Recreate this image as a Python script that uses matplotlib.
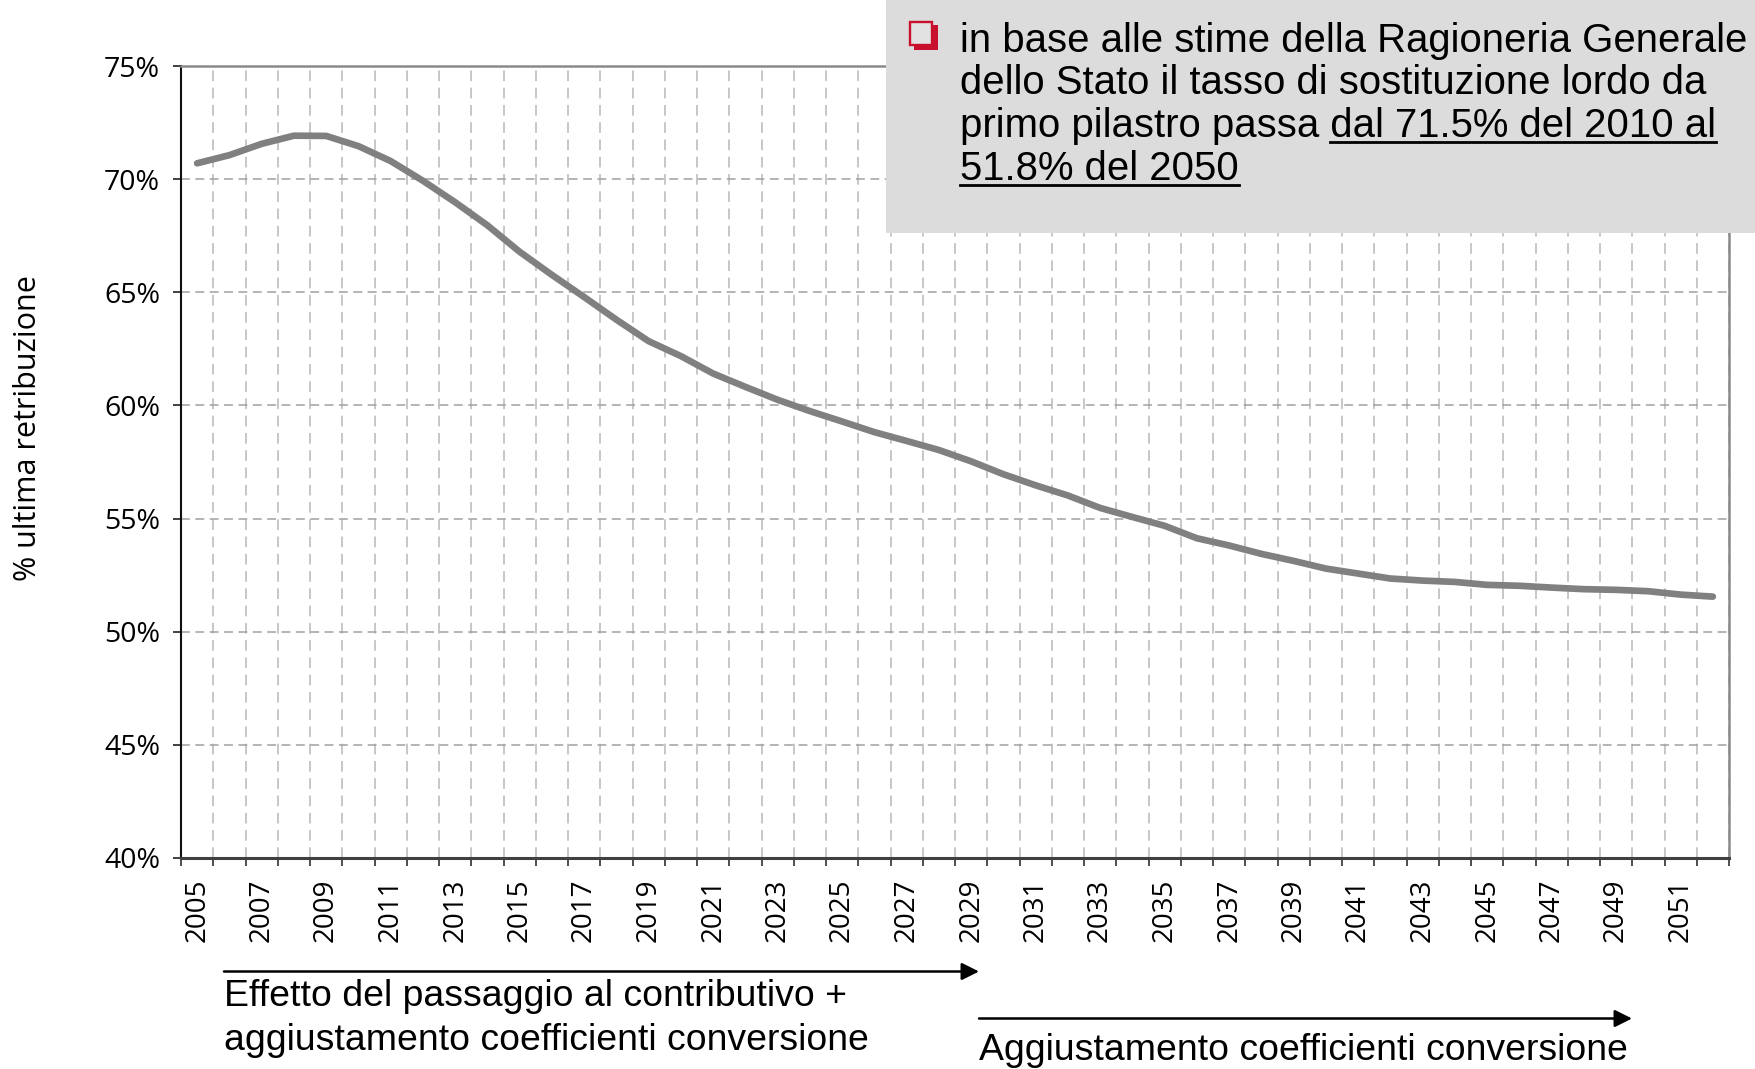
import numpy as np
import matplotlib
matplotlib.use('Agg')
import matplotlib.pyplot as plt

# replacement rate (% of last salary), first pillar, RGS projection
years = list(range(2005, 2053))
values = [70.70, 71.06, 71.56, 71.92, 71.91, 71.46, 70.80, 69.93, 68.98, 67.96,
          66.79, 65.77, 64.79, 63.79, 62.84, 62.18, 61.41, 60.82, 60.25, 59.75,
          59.29, 58.82, 58.43, 58.03, 57.53, 56.96, 56.47, 56.02, 55.47, 55.07,
          54.68, 54.13, 53.81, 53.44, 53.13, 52.79, 52.57, 52.35, 52.26, 52.20,
          52.07, 52.03, 51.95, 51.88, 51.85, 51.79, 51.64, 51.55]
y_ticks = [40, 45, 50, 55, 60, 65, 70, 75]

ylabel = '% ultima retribuzione'
box_lines = ['in base alle stime della Ragioneria Generale',
             'dello Stato il tasso di sostituzione lordo da',
             'primo pilastro passa dal 71.5% del 2010 al',
             '51.8% del 2050']
underlined = [None, None, 'dal 71.5% del 2010 al', '51.8% del 2050']
arrow1_text = ['Effetto del passaggio al contributivo +',
               'aggiustamento coefficienti conversione']
arrow2_text = 'Aggiustamento coefficienti conversione'

W, H = 1755, 1069
tick_font = 'Open Sans'
text_font = 'Liberation Sans'
box_grey = '#dcdcdc'
red = '#c8102e'


def fx(x):
    return x / W


def fy(y):
    return 1 - y / H


fig = plt.figure(figsize=(W / 100, H / 100), dpi=100)
ax = fig.add_axes([fx(181), fy(858), (1729 - 181) / W, (858 - 66) / H])

x = np.arange(len(years))
ax.plot(x, values, color='#808080', lw=4.8, solid_capstyle='round',
        solid_joinstyle='round', zorder=3)

ax.set_xlim(-0.5, len(years) - 0.5)
ax.set_ylim(40, 75)

ax.set_yticks(y_ticks)
ax.set_yticklabels(['%d%%' % v for v in y_ticks], fontsize=20.5, family=tick_font)
ax.set_xticks(x[::2])
ax.set_xticklabels([str(y) for y in years[::2]], rotation=90, fontsize=20,
                   family=tick_font)
ax.set_xticks(np.arange(-0.5, len(years)), minor=True)

ax.tick_params(axis='y', length=6, width=1.2, color='#202020', pad=9)
ax.tick_params(axis='x', which='major', length=0, pad=15)
ax.tick_params(axis='x', which='minor', length=6, width=1.2, color='#303030')

ax.yaxis.grid(True, which='major', color='#a0a0a0', lw=1.1, linestyle=(0, (5.8, 3.6)))
ax.xaxis.grid(True, which='minor', color='#b8b8b8', lw=1.1, linestyle=(0, (7, 4.3)))
ax.xaxis.grid(False, which='major')
ax.set_axisbelow(True)

ax.spines['left'].set_color('#101010')
ax.spines['left'].set_linewidth(1.5)
ax.spines['bottom'].set_color('#404040')
ax.spines['bottom'].set_linewidth(2.2)
for s in ['top', 'right']:
    ax.spines[s].set_color('#8a8a8a')
    ax.spines[s].set_linewidth(1.8)

fig.text(fx(28), fy(428), ylabel, rotation=90, ha='center', va='center',
         fontsize=22, family=tick_font)

# grey note box top right
box = plt.Rectangle((fx(886), fy(233)), 1 - fx(886), 233 / H,
                    transform=fig.transFigure, facecolor=box_grey,
                    edgecolor='none', zorder=5)
fig.add_artist(box)

# red shadowed square bullet
shadow = plt.Rectangle((fx(913.5), fy(50)), 24.5 / W, 24.5 / H,
                       transform=fig.transFigure, facecolor=red,
                       edgecolor='none', zorder=6)
square = plt.Rectangle((fx(909.5), fy(44.5)), 22.5 / W, 22.5 / H,
                       transform=fig.transFigure, facecolor='#e2e2e2',
                       edgecolor=red, lw=1.7, zorder=7)
fig.add_artist(shadow)
fig.add_artist(square)

baselines = [51.5, 94.4, 137.3, 180.2]
box_texts = []
for line, base in zip(box_lines, baselines):
    t = fig.text(fx(960), fy(base), line, fontsize=28.9, family=text_font,
                 ha='left', va='baseline', zorder=8)
    box_texts.append(t)

# underline part of the text
fig.canvas.draw()
renderer = fig.canvas.get_renderer()
for t, part, base in zip(box_texts, underlined, baselines):
    if part is None:
        continue
    ext = t.get_window_extent(renderer)
    tmp = fig.text(0, 0, part, fontsize=28.9, family=text_font)
    w = tmp.get_window_extent(renderer).width
    tmp.remove()
    x1 = ext.x1
    x0 = x1 - w
    yline = H - (base + 5)
    fig.add_artist(plt.Line2D([x0 / W, x1 / W], [yline / H, yline / H],
                              transform=fig.transFigure, color='black',
                              lw=2.0, zorder=8))

# arrows under the x axis
ax.annotate('', xy=(979, H - 971.5), xytext=(224, H - 971.5),
            xycoords='figure pixels', textcoords='figure pixels',
            arrowprops=dict(arrowstyle='-|>', color='black', lw=1.8,
                            mutation_scale=26, shrinkA=0, shrinkB=0),
            annotation_clip=False)
ax.annotate('', xy=(1632, H - 1018.5), xytext=(979, H - 1018.5),
            xycoords='figure pixels', textcoords='figure pixels',
            arrowprops=dict(arrowstyle='-|>', color='black', lw=1.8,
                            mutation_scale=26, shrinkA=0, shrinkB=0),
            annotation_clip=False)

fig.text(fx(224), fy(996), arrow1_text[0], fontsize=26.9, family=text_font,
         ha='left', va='center')
fig.text(fx(224), fy(1041), arrow1_text[1], fontsize=26.9, family=text_font,
         ha='left', va='center')
fig.text(fx(979), fy(1050), arrow2_text, fontsize=26.9, family=text_font,
         ha='left', va='center')

fig.savefig('out.png', dpi=100)
